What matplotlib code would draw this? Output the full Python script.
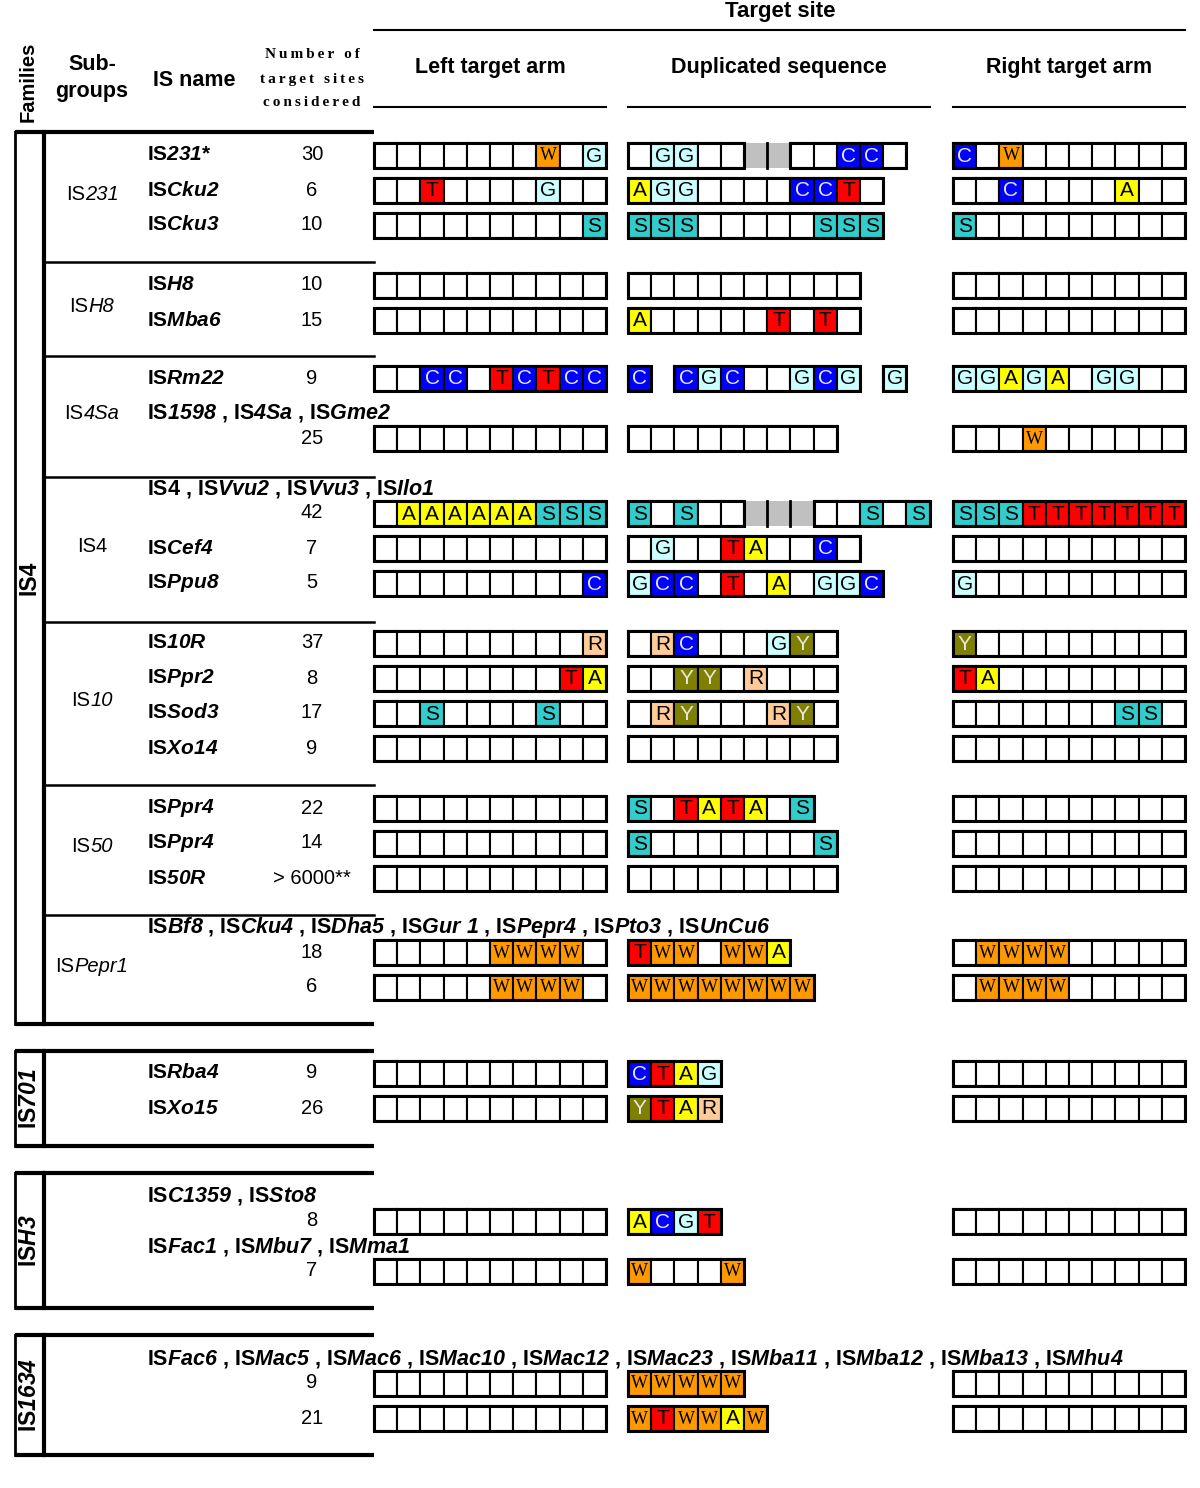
import matplotlib
matplotlib.use('Agg')
import matplotlib.pyplot as plt
from matplotlib.patches import Rectangle
from matplotlib.font_manager import FontProperties
from matplotlib.textpath import TextToPath

plt.rcParams['font.family'] = ['Liberation Sans', 'DejaVu Sans']
plt.rcParams['mathtext.fontset'] = 'custom'
plt.rcParams['mathtext.rm'] = 'Liberation Sans'
plt.rcParams['mathtext.it'] = 'Liberation Sans:italic'
plt.rcParams['mathtext.bf'] = 'Liberation Sans:bold'
plt.rcParams['mathtext.bfit'] = 'Liberation Sans:bold:italic'

# ---- data ----
is_names = ['IS231*', 'ISCku2', 'ISCku3', 'ISH8', 'ISMba6', 'ISRm22', '', '', 'ISCef4', 'ISPpu8',
            'IS10R', 'ISPpr2', 'ISSod3', 'ISXo14', 'ISPpr4', 'ISPpr4', 'IS50R', '', '',
            'ISRba4', 'ISXo15', '', '', '', '']
counts = ['30', '6', '10', '10', '15', '9', '25', '42', '7', '5', '37', '8', '17', '9',
          '22', '14', '> 6000**', '18', '6', '9', '26', '8', '7', '9', '21']
# names listed on a line above the row (row index -> names)
name_lines = {
    6: ['IS1598', 'IS4Sa', 'ISGme2'],
    7: ['IS4', 'ISVvu2', 'ISVvu3', 'ISIlo1'],
    17: ['ISBf8', 'ISCku4', 'ISDha5', 'ISGur 1', 'ISPepr4', 'ISPto3', 'ISUnCu6'],
    21: ['ISC1359', 'ISSto8'],
    22: ['ISFac1', 'ISMbu7', 'ISMma1'],
    23: ['ISFac6', 'ISMac5', 'ISMac6', 'ISMac10', 'ISMac12', 'ISMac23', 'ISMba11',
         'ISMba12', 'ISMba13', 'ISMhu4'],
}
# ' ' empty cell, '-' no cell, '#' variable (grey) part
left_arm = ['       W G', '  T    G  ', '         S', '          ', '          ',
            '  CC TCTCC', '          ', ' AAAAAASSS', '          ', '         C',
            '         R', '        TA', '  S    S  ', '          ',
            '          ', '          ', '          ',
            '     WWWW ', '     WWWW ',
            '          ', '          ', '          ', '          ', '          ', '          ']
dup_seq = [' GG  ##  CC ', 'AGG    CCT ', 'SSS     SSS', '          ', 'A     T T ',
           'C-CGC  GCG-G', '         ', 'S S  ###  S S', ' G  TA  C ', 'GCC T A GGC',
           ' RC   GY ', '  YY R   ', ' RY   RY ', '         ',
           'S TATA S', 'S       S', '         ',
           'TWW WWA', 'WWWWWWWW',
           'CTAG', 'YTAR', 'ACGT', 'W   W', 'WWWWW', 'WTWWAW']
right_arm = ['C W       ', '  C    A  ', 'S         ', '          ', '          ',
             'GGAGA GG  ', '   W      ', 'SSSTTTTTTT', '          ', 'G         ',
             'Y         ', 'TA        ', '       SS ', '          ',
             '          ', '          ', '          ',
             ' WWWW     ', ' WWWW     ',
             '          ', '          ', '          ', '          ', '          ', '          ']
subgroups = ['IS231', 'ISH8', 'IS4Sa', 'IS4', 'IS10', 'IS50', 'ISPepr1']
families = ['IS4', 'IS701', 'ISH3', 'IS1634']

base_colors = {' ': 'white', 'A': '#ffff00', 'C': '#0000ff', 'G': '#ccffff', 'T': '#ff0000',
               'S': '#33cccc', 'W': '#ff9900', 'R': '#ffcc99', 'Y': '#808000', '#': '#c0c0c0'}
light_text = {'C', 'Y'}

# ---- layout (pixels) ----
ROW_Y = [155, 190, 225, 285, 320, 378, 438, 513, 548, 583, 643, 678, 713, 748,
         808, 843, 878, 952, 987, 1073, 1108, 1221, 1271, 1383, 1418]
SUB_Y = [132, 262, 356, 477, 622, 785, 915, 1024]
FAM_Y = [(132, 1024), (1051, 1146), (1173, 1308), (1335, 1455)]
ARM_X = [374, 628, 953]
CW, CH = 23.2, 25
X_FAM, X_SUB, X_NAME, X_CNT, X_TAB = 15, 44, 147, 312, 374

fig = plt.figure(figsize=(12, 14.88), dpi=100)
ax = fig.add_axes([0, 0, 1, 1])
ax.set_xlim(0, 1200)
ax.set_ylim(1488, 0)
ax.axis('off')

ttp = TextToPath()


def fmt(name):
    # "IS" upright, rest bold italic
    if name.startswith('IS') and len(name) > 2 and name != 'IS4':
        rest = name[2:]
        star = ''
        if rest.endswith('*'):
            rest, star = rest[:-1], '*'
        return 'IS$\\mathbfit{%s}$%s' % (rest.replace(' ', r'\ '), star)
    return name


def mixed_label(x, y, name, size):
    # centred label with upright "IS" and italic remainder
    head, tail = name[:2], name[2:]
    if name == 'IS4':
        head, tail = name, ''
    fp1 = FontProperties(family='Liberation Sans', size=size)
    fp2 = FontProperties(family='Liberation Sans', style='italic', size=size)
    w1 = ttp.get_text_width_height_descent(head, fp1, ismath=False)[0] * 100 / 72
    w2 = ttp.get_text_width_height_descent(tail, fp2, ismath=False)[0] * 100 / 72 if tail else 0
    xs = x - (w1 + w2) / 2
    ax.text(xs, y, head, ha='left', va='center', fontproperties=fp1)
    if tail:
        ax.text(xs + w1, y, tail, ha='left', va='center', fontproperties=fp2)


def draw_seq(seq, x0, yc):
    y0 = yc - CH / 2
    run_start = None
    for i, c in enumerate(seq + '-'):
        x = x0 + i * CW
        if c in '-#':
            if run_start is not None:
                ax.add_patch(Rectangle((x0 + run_start * CW, y0), (i - run_start) * CW, CH,
                                       fill=False, ec='black', lw=2.2, zorder=4))
                run_start = None
            if c == '#':
                ax.add_patch(Rectangle((x, y0), CW, CH, fc=base_colors['#'], ec='none', zorder=2))
                if i > 0 and seq[i - 1] == '#':
                    ax.plot([x, x], [y0, y0 + CH], color='black', lw=2, zorder=4)
            continue
        if run_start is None:
            run_start = i
        ax.add_patch(Rectangle((x, y0), CW, CH, fc=base_colors[c], ec='black', lw=1.5, zorder=3))
        if c != ' ':
            col = '#e8e8e8' if c in light_text else 'black'
            if c == 'W':
                ax.text(x + CW / 2, yc + 1, c, ha='center', va='center', fontsize=13,
                        family=['Liberation Serif', 'DejaVu Serif'], color=col, zorder=5)
            else:
                ax.text(x + CW / 2, yc + 1, c, ha='center', va='center', fontsize=15,
                        color=col, zorder=5)


# header
ax.text(28, 82, 'Families', rotation=90, ha='center', va='center', fontsize=14.5, fontweight='bold')
ax.text(92, 78, 'Sub-\ngroups', ha='center', va='center', fontsize=15.5, fontweight='bold',
        linespacing=1.35)
ax.text(194, 80, 'IS name', ha='center', va='center', fontsize=15.5, fontweight='bold')
for txt, yy in zip(['Number of', 'target sites', 'considered'], [55, 79, 102]):
    ax.text(X_CNT, yy, '\u2009'.join(txt), ha='center', va='center', fontsize=11,
            fontweight='bold', family=['Liberation Serif', 'DejaVu Serif'])
ax.text(780, 12, 'Target site', ha='center', va='center', fontsize=16, fontweight='bold')
ax.plot([374, 1185], [30, 30], color='black', lw=1.5)
for label, x0, x1 in zip(['Left target arm', 'Duplicated sequence', 'Right target arm'],
                         [374, 628, 953], [606, 930, 1185]):
    ax.text((x0 + x1) / 2, 68, label, ha='center', va='center', fontsize=15.5, fontweight='bold')
    ax.plot([x0, x1], [107, 107], color='black', lw=1.5)

# family boxes
for fam, (t, b) in zip(families, FAM_Y):
    ax.plot([X_FAM, X_TAB], [t, t], color='black', lw=3, solid_capstyle='butt')
    ax.plot([X_FAM, X_TAB], [b, b], color='black', lw=3, solid_capstyle='butt')
    ax.plot([X_FAM, X_FAM], [t, b], color='black', lw=2)
    ax.plot([X_SUB, X_SUB], [t, b], color='black', lw=3)
    ax.text(29, (t + b) / 2, fmt(fam), rotation=90, ha='center', va='center',
            fontsize=16.5, fontweight='bold')

# subgroup separators and labels
for yy in SUB_Y[1:-1]:
    ax.plot([X_SUB, X_TAB], [yy, yy], color='black', lw=1.8)
for sg, t, b in zip(subgroups, SUB_Y[:-1], SUB_Y[1:]):
    mixed_label(92, (t + b) / 2 - 3, sg, 14.5)

# rows
for i, yc in enumerate(ROW_Y):
    if is_names[i]:
        ax.text(X_NAME, yc, fmt(is_names[i]), ha='left', va='center', fontsize=15,
                fontweight='bold')
    if i in name_lines:
        ax.text(X_NAME, yc - 25, ' , '.join(fmt(n) for n in name_lines[i]), ha='left',
                va='center', fontsize=15.5, fontweight='bold', zorder=6)
    ax.text(X_CNT, yc, counts[i], ha='center', va='center', fontsize=14.5)
    for seq, x0 in zip([left_arm[i], dup_seq[i], right_arm[i]], ARM_X):
        draw_seq(seq, x0, yc)

fig.savefig('out.png', dpi=100)
